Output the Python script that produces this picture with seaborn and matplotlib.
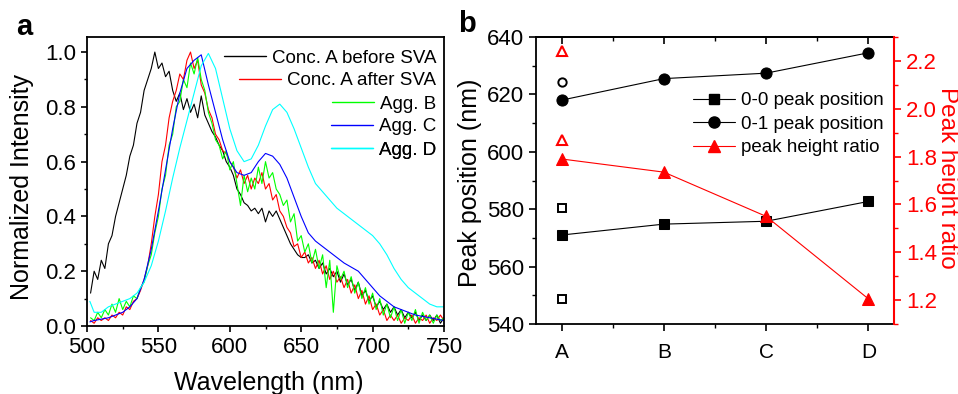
import numpy as np
import pandas as pd
import matplotlib
matplotlib.use("Agg")
import matplotlib.pyplot as plt
import seaborn as sns
from matplotlib.ticker import MultipleLocator
from matplotlib.lines import Line2D

# ---------------- Panel a data ----------------
wl_noisy = np.arange(502.5, 750.1, 2.5)
wl_smooth = [502] + list(range(505, 751, 5))

before_sva = [
    0.12, 0.20, 0.17, 0.24, 0.21, 0.30, 0.33, 0.40, 0.45, 0.50,
    0.55, 0.62, 0.66, 0.74, 0.78, 0.86, 0.90, 0.94, 1.00, 0.94,
    0.96, 0.91, 0.93, 0.86, 0.82, 0.85, 0.79, 0.83, 0.78, 0.81,
    0.76, 0.84, 0.77, 0.74, 0.71, 0.69, 0.66, 0.64, 0.60, 0.58,
    0.55, 0.50, 0.48, 0.45, 0.44, 0.42, 0.43, 0.41, 0.43, 0.38,
    0.42, 0.40, 0.42, 0.39, 0.36, 0.33, 0.30, 0.28, 0.26, 0.25,
    0.25, 0.26, 0.23, 0.24, 0.21, 0.23, 0.19, 0.21, 0.18, 0.20,
    0.16, 0.19, 0.15, 0.17, 0.13, 0.16, 0.11, 0.13, 0.09, 0.11,
    0.07, 0.09, 0.06, 0.08, 0.05, 0.07, 0.04, 0.06, 0.03, 0.05,
    0.03, 0.05, 0.02, 0.04, 0.02, 0.04, 0.02, 0.04, 0.01, 0.03,
]
after_sva = [
    0.02, 0.01, 0.03, 0.02, 0.03, 0.02, 0.04, 0.03, 0.05, 0.04,
    0.07, 0.06, 0.09, 0.10, 0.13, 0.17, 0.22, 0.30, 0.40, 0.48,
    0.60, 0.66, 0.76, 0.82, 0.86, 0.92, 0.90, 0.97, 1.00, 0.94,
    0.97, 0.88, 0.85, 0.79, 0.76, 0.70, 0.68, 0.64, 0.63, 0.60,
    0.58, 0.54, 0.57, 0.52, 0.55, 0.50, 0.54, 0.52, 0.56, 0.50,
    0.52, 0.46, 0.48, 0.42, 0.40, 0.36, 0.34, 0.29, 0.30, 0.25,
    0.27, 0.23, 0.25, 0.21, 0.24, 0.19, 0.22, 0.17, 0.20, 0.16,
    0.18, 0.14, 0.17, 0.12, 0.15, 0.10, 0.13, 0.08, 0.11, 0.06,
    0.08, 0.04, 0.06, 0.02, 0.04, 0.02, 0.04, 0.01, 0.03, 0.02,
    0.04, 0.01, 0.03, 0.02, 0.04, 0.01, 0.03, 0.02, 0.04, 0.02,
]
agg_b = [
    0.03, 0.02, 0.05, 0.03, 0.06, 0.04, 0.08, 0.05, 0.10, 0.06,
    0.09, 0.07, 0.11, 0.10, 0.14, 0.16, 0.22, 0.26, 0.34, 0.40,
    0.50, 0.55, 0.66, 0.70, 0.80, 0.82, 0.90, 0.87, 0.96, 0.92,
    0.98, 0.90, 0.86, 0.78, 0.74, 0.68, 0.66, 0.61, 0.64, 0.57,
    0.60, 0.52, 0.44, 0.55, 0.49, 0.54, 0.50, 0.58, 0.52, 0.60,
    0.54, 0.56, 0.50, 0.48, 0.44, 0.46, 0.38, 0.41, 0.31, 0.33,
    0.27, 0.30, 0.23, 0.28, 0.21, 0.26, 0.14, 0.24, 0.05, 0.22,
    0.17, 0.20, 0.14, 0.18, 0.12, 0.16, 0.10, 0.14, 0.08, 0.12,
    0.06, 0.10, 0.04, 0.08, 0.03, 0.07, 0.02, 0.06, 0.01, 0.05,
    0.02, 0.06, 0.01, 0.05, 0.02, 0.04, 0.01, 0.04, 0.02, 0.03,
]
agg_c = [
    0.015, 0.02, 0.025, 0.03, 0.04, 0.05, 0.07, 0.10, 0.17, 0.28,
    0.42, 0.57, 0.72, 0.85, 0.94, 0.97, 0.99, 0.88, 0.78, 0.68,
    0.60, 0.56, 0.55, 0.56, 0.60, 0.63, 0.62, 0.59, 0.54, 0.47,
    0.40, 0.34, 0.31, 0.29, 0.27, 0.25, 0.23, 0.215, 0.20, 0.17,
    0.14, 0.11, 0.09, 0.07, 0.06, 0.05, 0.04, 0.035, 0.03, 0.025,
    0.02,
]
agg_d = [
    0.09, 0.05, 0.05, 0.07, 0.08, 0.09, 0.10, 0.12, 0.16, 0.22,
    0.31, 0.42, 0.54, 0.65, 0.75, 0.85, 0.95, 0.995, 0.94, 0.83,
    0.72, 0.64, 0.60, 0.61, 0.66, 0.73, 0.79, 0.81, 0.78, 0.72,
    0.65, 0.58, 0.52, 0.49, 0.46, 0.43, 0.41, 0.39, 0.37, 0.35,
    0.33, 0.30, 0.26, 0.21, 0.17, 0.14, 0.12, 0.10, 0.08, 0.07,
    0.07,
]
spectra_labels = ["Conc. A before SVA", "Conc. A after SVA", "Agg. B", "Agg. C", "Agg. D"]
spectra_colors = ["#000000", "#FF0000", "#00FF00", "#0000FF", "#00FFFF"]

# ---------------- Panel b data ----------------
categories = ["A", "B", "C", "D"]
peak00 = [571.0, 574.8, 575.8, 582.7]
peak01 = [618.0, 625.5, 627.4, 634.5]
height_ratio = [1.79, 1.735, 1.55, 1.205]
open_peak00_A = [580.3, 548.6]
open_peak01_A = [624.4]
open_ratio_A = [2.24, 1.87]

# ---------------- Figure ----------------
sns.set_style("white")
plt.rcParams["font.family"] = ["Liberation Sans", "DejaVu Sans"]
plt.rcParams["axes.linewidth"] = 1.3
for key in ["text.color", "axes.labelcolor", "xtick.color", "ytick.color", "axes.edgecolor"]:
    plt.rcParams[key] = "black"

fig = plt.figure(figsize=(9.58, 3.94), dpi=100)
W, H = 958, 394

def fig_rect(l, t, r, b):
    return [l / W, 1 - b / H, (r - l) / W, (b - t) / H]

# ---- panel a ----
ax1 = fig.add_axes(fig_rect(87, 37, 444, 326))
wls = [wl_noisy, wl_noisy, wl_noisy, wl_smooth, wl_smooth]
vals = [before_sva, after_sva, agg_b, agg_c, agg_d]
frames = [pd.DataFrame({"Wavelength": np.asarray(w, float), "Intensity": v, "Sample": lab})
          for w, v, lab in zip(wls, vals, spectra_labels)]
df = pd.concat(frames, ignore_index=True)
sns.lineplot(data=df, x="Wavelength", y="Intensity", hue="Sample",
             hue_order=spectra_labels, palette=dict(zip(spectra_labels, spectra_colors)),
             estimator=None, sort=False, lw=0.8, ax=ax1, legend=False)
ax1.set_xlim(500, 750)
ax1.set_ylim(0, 1.055)
ax1.xaxis.set_major_locator(MultipleLocator(50))
ax1.xaxis.set_minor_locator(MultipleLocator(25))
ax1.yaxis.set_major_locator(MultipleLocator(0.2))
ax1.yaxis.set_minor_locator(MultipleLocator(0.1))
ax1.yaxis.set_major_formatter(matplotlib.ticker.FormatStrFormatter("%.1f"))
ax1.tick_params(axis="both", which="major", direction="out", length=4, width=1.2,
                labelsize=16, pad=4, color="black", labelcolor="black")
ax1.tick_params(axis="both", which="minor", direction="out", length=2.5, width=1.0)
ax1.tick_params(bottom=True, left=True, which="both")
ax1.set_xlabel("Wavelength (nm)", fontsize=18, color="black")
ax1.set_ylabel("Normalized Intensity", fontsize=18, color="black")
ax1.xaxis.set_label_coords(0.51, -0.155)
ax1.yaxis.set_label_coords(-0.148, 0.48)
for sp in ax1.spines.values():
    sp.set_color("black")
    sp.set_linewidth(1.3)

# right-aligned legend rows
row_y = [58, 80.7, 104, 126.7, 150]
for lab, col, yy in zip(spectra_labels, spectra_colors, row_y):
    h = Line2D([], [], color=col, lw=1.0)
    lg = ax1.legend([h], [lab], loc="center right", bbox_to_anchor=(436 / W, 1 - yy / H),
                    bbox_transform=fig.transFigure, frameon=False, fontsize=13.5,
                    handlelength=2.25, handletextpad=0.3, borderpad=0, borderaxespad=0,
                    labelcolor="black")
    ax1.add_artist(lg)

# ---- panel b ----
ax2 = fig.add_axes(fig_rect(536, 37, 894, 324))
xpos = np.arange(len(categories))
sns.lineplot(x=xpos, y=peak00, color="black", lw=0.8, marker="s", markersize=7.5,
             markeredgecolor="black", estimator=None, sort=False, ax=ax2)
sns.lineplot(x=xpos, y=peak01, color="black", lw=0.8, marker="o", markersize=8,
             markeredgecolor="black", estimator=None, sort=False, ax=ax2)
sns.lineplot(x=np.zeros(len(open_peak00_A)), y=open_peak00_A, color="black", ls="none",
             marker="s", markersize=5.5, mfc="white", mec="black", mew=1.4,
             estimator=None, sort=False, ax=ax2)
sns.lineplot(x=np.zeros(len(open_peak01_A)), y=open_peak01_A, color="black", ls="none",
             marker="o", markersize=6, mfc="white", mec="black", mew=1.4,
             estimator=None, sort=False, ax=ax2)
ax2.set_xlim(-0.25, 3.25)
ax2.set_ylim(540, 640)
ax2.set_xticks(xpos)
ax2.set_xticklabels(categories)
ax2.xaxis.set_minor_locator(MultipleLocator(0.5))
ax2.yaxis.set_major_locator(MultipleLocator(20))
ax2.yaxis.set_minor_locator(MultipleLocator(10))
ax2.tick_params(axis="both", which="major", direction="out", length=5, width=1.2,
                labelsize=16, color="black", labelcolor="black")
ax2.tick_params(axis="x", which="major", labelsize=15, pad=9)
ax2.tick_params(axis="both", which="minor", direction="out", length=3, width=1.0)
ax2.tick_params(bottom=True, left=True, which="both")
ax2.set_ylabel("Peak position (nm)", fontsize=18, color="black")
ax2.yaxis.set_label_coords(-0.152, 0.493)
for sp in ax2.spines.values():
    sp.set_color("black")
    sp.set_linewidth(1.3)

top = ax2.secondary_xaxis("top")
top.set_xticks(xpos)
top.xaxis.set_minor_locator(MultipleLocator(0.5))
top.tick_params(which="major", direction="in", length=5, width=1.2, labeltop=False)
top.tick_params(which="minor", direction="in", length=3, width=1.0)
top.spines["top"].set_linewidth(1.3)

ax3 = ax2.twinx()
sns.lineplot(x=xpos, y=height_ratio, color="#FF0000", lw=0.8, marker="^", markersize=9,
             markeredgecolor="#FF0000", estimator=None, sort=False, ax=ax3)
sns.lineplot(x=np.zeros(len(open_ratio_A)), y=open_ratio_A, color="#FF0000", ls="none",
             marker="^", markersize=7, mfc="white", mec="#FF0000", mew=1.5,
             estimator=None, sort=False, ax=ax3)
ax3.set_ylim(1.1, 2.3)
ax3.yaxis.set_major_locator(MultipleLocator(0.2))
ax3.yaxis.set_minor_locator(MultipleLocator(0.1))
ax3.yaxis.set_major_formatter(matplotlib.ticker.FormatStrFormatter("%.1f"))
ax3.tick_params(axis="y", which="major", direction="out", length=5, width=1.2,
                labelsize=16, colors="#FF0000", right=True)
ax3.tick_params(axis="y", which="minor", direction="out", length=3, width=1.0,
                colors="#FF0000", right=True)
ax3.spines["right"].set_color("#FF0000")
ax3.spines["right"].set_linewidth(1.5)
for s in ["left", "top", "bottom"]:
    ax3.spines[s].set_visible(False)
ax3.set_ylabel("Peak height ratio", fontsize=17.5, color="#FF0000", rotation=270, va="bottom")
ax3.yaxis.set_label_coords(1.117, 0.51)

handles = [
    Line2D([], [], color="black", lw=0.8, marker="s", markersize=7.5),
    Line2D([], [], color="black", lw=0.8, marker="o", markersize=8),
    Line2D([], [], color="#FF0000", lw=0.8, marker="^", markersize=9),
]
ax3.legend(handles, ["0-0 peak position", "0-1 peak position", "peak height ratio"],
           loc="upper left", bbox_to_anchor=(693 / W, 1 - 92 / H), bbox_transform=fig.transFigure,
           frameon=False, fontsize=13.5, handlelength=2.25, handletextpad=0.3,
           borderpad=0, borderaxespad=0, labelspacing=0.34, numpoints=1, labelcolor="black")

fig.text(24 / W, 1 - 27 / H, "a", fontsize=21, fontweight="bold", ha="center", va="center")
fig.text(467 / W, 1 - 24 / H, "b", fontsize=21, fontweight="bold", ha="center", va="center")

fig.savefig("out.png", dpi=100)
